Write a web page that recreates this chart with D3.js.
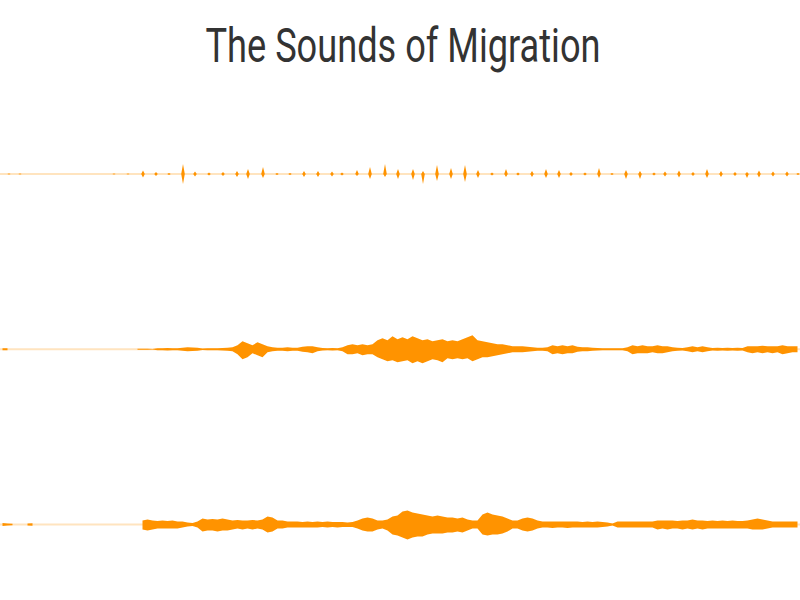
<!DOCTYPE html>
<html>
<head>
<meta charset="utf-8">
<script src="https://cdn.jsdelivr.net/npm/d3@7"></script>
<style>
  html, body { margin: 0; padding: 0; background: #fff; }
  svg { display: block; }
</style>
</head>
<body>
<svg id="chart" width="800" height="600"></svg>
<script>
// ---- Data (amplitudes, arbitrary units) ----
const title = "The Sounds of Migration";
const duration = 80; // seconds shown across the width
const binSize = 0.5; // seconds per amplitude bin (rows 2 and 3)

// Row 1: isolated calls [time (s), amplitude up, amplitude down]
const row1Calls = [
  [0.9,0.5,0.5],[2.0,0.5,0.5],[11.4,0.6,0.6],[12.8,0.6,0.6],[14.3,3.5,3.5],[15.6,2,2],
  [16.9,1,1],[18.3,10,10],[19.5,2.5,2.5],[20.9,1.5,1.5],[22.3,2,2],[23.7,3,3],
  [24.8,5,5],[26.3,7,4],[27.7,1,1],[29.0,1,1],[30.4,3,3],[31.8,3,3],[33.2,2.5,2.5],
  [34.2,1.5,1.5],[35.7,4,2],[37.0,7,5],[38.5,10,3],[39.8,5,5],[41.3,5,6],[42.3,3,10],
  [43.7,9,7],[45.1,6,5],[46.5,9,8],[47.8,4,4],[49.2,1.5,1.5],[50.6,5,3],[51.8,1.5,1.5],
  [53.2,3,3],[54.6,5,4],[55.9,4,4],[57.1,2,2],[58.5,1.5,1.5],[59.9,6,4],[61.2,1,1],
  [62.6,4,5],[64.0,3,5],[65.4,1.5,1.5],[66.5,2.5,2.5],[67.9,3.5,3.5],[69.3,2,2],
  [70.7,5,4],[72.1,3,3],[73.5,2,2],[74.7,2,4],[75.9,3.5,3.5],[77.3,2.5,2.5],
  [78.7,2.5,2.5],[79.8,1,1]
];

// Row 2: per-bin amplitude, upper and lower envelopes
const row2Up = [
  1,1,0,0,0,0,0,0,0,0, 0,0,0,0,0,0,0,0,0,0, 0,0,0,0,0,0,0,0.5,0.5,0.5,
  0.3,1,1,1.2,1,1,1.5,2,1.8,1.5, 0.8,1,1,1,1.2,1.5,2,4,8,6,
  4,7,5,3,2,1.5,1.5,2,1.5,1.5, 2.5,3,3,2,1.2,1,1.2,1,2,4,
  5,4,5,4,5,9,11,9,13,10, 12,10,13,11,9,10,8,9,10,8,
  9,8,10,12,14,9,8,7,6,5, 5,4,3,3,3,2.5,2,1.5,1.5,2,
  4,3,4,3,4,2.5,2,2,1.5,1.2, 1,1,1,1,1,2,4,3,4,3,
  3,4,3,3,2,1.5,1.2,2,3,2, 3,2,1.2,1.5,1.2,1.5,1.2,1.5,1.2,3,
  3,3,3.5,3,3,3,4,3,3,3
];
const row2Down = [
  1,1,0,0,0,0,0,0,0,0, 0,0,0,0,0,0,0,0,0,0, 0,0,0,0,0,0,0,0.5,0.5,0.5,
  0.3,1,1,1.2,1,1,1.5,2,1.8,1.5, 0.8,1,1,1,1.2,1.5,2,5,10,8,
  4,6,8,3,2,1.5,1.5,2,1.5,1.5, 2.5,3,4,2,1.2,1,1.2,1,2,5,
  5,4,6,5,5,8,10,12,11,13, 12,11,14,12,14,12,10,11,13,9,
  10,9,10,9,12,10,8,8,7,6, 5,4,3,3,3,2.5,2,1.5,1.5,2,
  5,4,5,4,4,2.5,2,2,1.5,1.2, 1,1,1,1,1,2,5,4,4,4,
  3,4,4,3,2,1.5,1.2,2,3,2, 3,2,1.2,1.5,1.2,1.5,1.2,1.5,1.2,3,
  4,3,4,3,4,3,5,4,3,3
];

// Row 3: per-bin amplitude, upper and lower envelopes
const row3Up = [
  1.5,1,0.8,0,0,1,1.3,0,0,0, 0,0,0,0,0,0.5,0,0,0,0, 0,0,0,0,0,0,0,0,4,5,
  4,3.5,4,3.5,4,3,3,2,1.5,3, 6,5,5.5,5,6,5,4,4.5,4,4,
  4.5,4,5,8,7,4,4,3,3,3, 2.5,3,2.5,3,2.5,3,2.5,2.5,2.5,2,
  2.5,4,6,7,6,4,4,5,8,9, 13,14,12,11,10,9,8,9,8,7,
  7,6,7,5,4,4,10,12,10,9, 8,6,4,4,6,7,6,4,3,3,
  3,3,3,3,3,3,2.5,3,2.5,3, 2.5,2,1,3,3,3,3,3,3,3,
  3,4,4,4,4,3.5,4,4,5,4, 4,3.5,4,3.5,4,3.5,4,3.5,3.5,4,
  5,6,5,4,3,3,3,3,3,3
];
const row3Down = [
  1.5,1,0.8,0,0,1,1.3,0,0,0, 0,0,0,0,0,0.5,0,0,0,0, 0,0,0,0,0,0,0,0,5,6,
  5,4,4,4,4,4,3,2,1.5,3, 7,6,6,7,6,6,5,4,5,4,
  5,4,5,8,7,4,4,3,3,3, 3,3,3,3,2.5,3,2.5,3,2.5,2.5,
  2.5,4,6,7,7,5,4,6,10,11, 13,15,13,12,12,10,9,9,9,8,
  8,7,8,6,4,4,10,11,10,10, 9,7,4,4,6,7,6,4,3,3,
  3.5,3,3,3.5,3,3,3,3,3,3, 2.5,2,1,3,3,3,3,3,3,3,
  3,5,4,5,4,4,5,4,5,4, 5,4,4,4,4,4,4,4,4,4,
  5,5,5,4,3,3,3,3,3,3
];

const rowNames = ["row1", "row2", "row3"];

// ---- Layout ----
const width = 800, height = 600;
const svg = d3.select("#chart");
const color = "#ff9300";

const x = d3.scaleLinear().domain([0, duration]).range([0, width]);
const rowScale = d3.scalePoint().domain(rowNames).range([174, 524.5]);
const amp = d3.scaleLinear().domain([0, 10]).range([0, 10]);

svg.append("text")
  .attr("x", 403)
  .attr("y", 62)
  .attr("text-anchor", "middle")
  .attr("font-family", "Roboto, 'Liberation Sans Narrow', sans-serif")
  .attr("font-size", 48)
  .attr("fill", "#333")
  .attr("textLength", 395)
  .attr("lengthAdjust", "spacingAndGlyphs")
  .text(title);

// Build series in a common [time, up, down] form
function binsToSeries(up, down) {
  return up.map((u, i) => [i * binSize + binSize / 2, u, down[i]]);
}
function callsToSeries(calls) {
  const pts = [[0, 0, 0]];
  calls.forEach(([t, u, d]) => {
    pts.push([t - 0.18, 0, 0], [t, u, d], [t + 0.18, 0, 0]);
  });
  pts.push([duration, 0, 0]);
  return pts;
}

const series = [
  callsToSeries(row1Calls),
  binsToSeries(row2Up, row2Down),
  binsToSeries(row3Up, row3Down)
];

series.forEach((data, k) => {
  const cy = rowScale(rowNames[k]);
  const g = svg.append("g").attr("transform", `translate(0,${cy})`);

  g.append("line")
    .attr("x1", x(0)).attr("x2", x(duration))
    .attr("y1", 0).attr("y2", 0)
    .attr("stroke", color)
    .attr("stroke-opacity", 0.25)
    .attr("stroke-width", 2);

  const area = d3.area()
    .x(d => x(d[0]))
    .y0(d => amp(d[2]))
    .y1(d => -amp(d[1]))
    .defined(d => d[1] > 0 || d[2] > 0 || k === 0)
    .curve(d3.curveLinear);

  g.append("path")
    .datum(data)
    .attr("d", area)
    .attr("fill", color)
    .attr("stroke", "none");
});
</script>
</body>
</html>
